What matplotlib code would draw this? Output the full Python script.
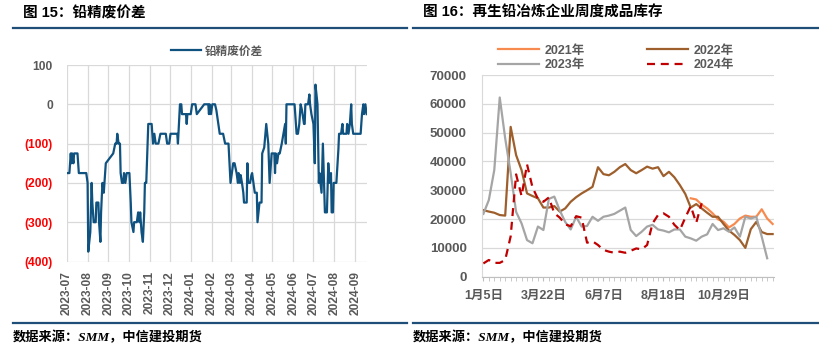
import numpy as np
import pandas as pd
import matplotlib
matplotlib.use('Agg')
import matplotlib.pyplot as plt
import matplotlib.dates as mdates
from matplotlib.lines import Line2D
from matplotlib.ticker import FuncFormatter, FixedLocator, MultipleLocator

plt.rcParams['font.family'] = ['Liberation Sans', 'Noto Sans CJK SC']

# ---- left panel data: lead concentrate vs scrap spread (days after 2023-07-01)
start_date = '2023-07-01'
spread_days = [
    0, 4, 6, 7, 8, 10, 11, 16, 17, 18,
    29, 31, 32, 35, 37, 38, 40, 43, 44, 47,
    48, 50, 51, 53, 55, 56, 58, 69, 72, 74,
    75, 77, 79, 80, 82, 84, 85, 87, 89, 93,
    95, 96, 99, 100, 104, 106, 108, 109, 111, 113,
    115, 116, 118, 121, 126, 128, 130, 132, 136, 139,
    147, 149, 152, 154, 164, 165, 168, 170, 171, 177,
    178, 179, 184, 186, 191, 193, 204, 210, 211, 212,
    214, 216, 220, 222, 227, 232, 235, 240, 243, 247,
    249, 252, 254, 255, 257, 258, 260, 262, 263, 267,
    268, 269, 272, 274, 275, 277, 279, 282, 283, 286,
    289, 290, 293, 296, 299, 301, 304, 308, 309, 310,
    312, 314, 316, 319, 321, 324, 325, 326, 338, 340,
    341, 343, 345, 347, 349, 352, 353, 354, 358, 360,
    361, 363, 366, 368, 369, 372, 374, 375, 378, 380,
    383, 386, 388, 390, 392, 393, 395, 396, 400, 403,
    404, 407, 409, 410, 415, 416, 418, 420, 422, 423,
    425, 436, 438, 440, 441, 443, 445,
]
spread_values = [
    -175, -175, -125, -150, -125, -150, -125, -125, -150, -175,
    -175, -200, -375, -325, -200, -250, -300, -300, -250, -250,
    -300, -350, -275, -200, -225, -200, -150, -125, -100, -100,
    -75, -100, -100, -175, -200, -200, -175, -200, -175, -175,
    -250, -300, -325, -300, -300, -275, -300, -275, -325, -350,
    -275, -200, -200, -50, -50, -100, -75, -100, -100, -75,
    -75, -100, -100, -75, -75, -100, 0, 0, -25, -25,
    -50, -25, -25, 0, 0, -25, 0, 0, -25, 0,
    -25, 0, 0, -15, -75, -75, -100, -100, -200, -150,
    -150, -175, -200, -175, -200, -180, -200, -225, -250, -250,
    -150, -200, -200, -180, -175, -200, -225, -225, -300, -250,
    -250, -125, -110, -50, -100, -200, -125, -125, -175, -125,
    -150, -125, -125, -100, -80, -50, -100, 0, 0, -50,
    -75, -75, -50, 0, -15, -50, -50, 0, 0, 25,
    0, -25, -50, -150, 50, 0, -200, -175, -225, -100,
    -275, -275, -150, -200, -175, -275, -275, -200, -200, -115,
    -75, -75, -50, -75, -75, -50, -75, -50, 0, -50,
    -75, -75, -25, 0, -25, 0, -25,
]
spread_label = '铅精废价差'

# ---- right panel data: weekly finished-goods inventory (tonnes), 54 weeks
week_tick_labels = ['1月5日', '3月22日', '6月7日', '8月18日', '10月29日']
week_tick_step = 11
nan = np.nan
inv_2021 = [nan] * 38 + [
    27200, 26800, 25000, 23700, 22000, 19900, 19100, 17100, 18300, 20200,
    21200, 20800, 20800, 23400, 20200, 18300,
]
inv_2022 = [
    23100, 22600, 22200, 21400, 21200, 52000, 42200, 37000, 28900, 28000,
    27200, 24000, 24000, 24500, 22600, 23700, 26000, 27600, 28900, 30000,
    31200, 38000, 35600, 35200, 36400, 38000, 39100, 37000, 35900, 37000,
    38200, 37500, 38000, 34900, 36400, 34500, 31800, 28700, 24000, 25200,
    23700, 22200, 20800, 20800, 18300, 16000, 14500, 12700, 10000, 16500,
    19000, 15500, 14800, 14800,
]
inv_2023 = [
    21800, 26600, 37000, 62200, 48000, 36000, 22500, 18500, 12700, 11600,
    17400, 16200, 27000, 27800, 23000, 19000, 16400, 20800, 17400, 17600,
    20800, 19400, 20800, 21200, 21800, 22900, 24000, 16200, 14100, 15600,
    17400, 18000, 16400, 16000, 15400, 16400, 16400, 13900, 13300, 12500,
    13900, 14700, 18300, 16200, 16800, 15600, 17100, 13900, 20800, 20200,
    20800, 13900, 6400, nan,
]
inv_2024 = [
    4600, 5800, 4800, 4800, 5800, 14000, 35500, 28000, 39000, 31000,
    27000, 26000, 27500, 22000, 20500, 18200, 17500, 21000, 20500, 11800,
    12300, 11000, 9300, 8700, 8300, 8700, 8300, 9000, 9800, 9500,
    11000, 18500, 21400, 22000, 20800, 18000, 16200, 20500, 24500, 18700,
    25500,
] + [nan] * 13
series_names = ['2021年', '2022年', '2023年', '2024年']

GRAY_TXT = '#595959'
GRID = '#D9D9D9'
NAVY = '#1F4E79'

fig = plt.figure(figsize=(8.19, 3.54), dpi=100)
W, H = 819.0, 354.0


def px(x, y):
    return x / W, 1 - y / H


# titles, rules and source notes
for x0, x1, title in [(13, 407, '图 15：铅精废价差'), (413, 819, '图 16：再生铅冶炼企业周度成品库存')]:
    fig.text(*px(x0 + 10, 13), title, fontsize=10.5, fontweight='bold',
             color='black', va='center', ha='left')
    for yy in (28.3, 322.7):
        fig.add_artist(Line2D([x0 / W, x1 / W], [1 - yy / H] * 2,
                              color=NAVY, lw=1.6))
    fig.text(*px(x0, 337), '数据来源：SMM，中信建投期货', fontsize=9.5,
             fontweight='bold', style='italic', color='black', va='center',
             ha='left', family=['Liberation Serif', 'Noto Sans CJK SC'])

# ---------------- left chart
ax = fig.add_axes([66.7 / W, 1 - 261.5 / H, 300 / W, 196.5 / H])
dates = pd.Timestamp(start_date) + pd.to_timedelta(spread_days, unit='D')
ax.plot(dates, spread_values, color='#0F5280', lw=1.6, label=spread_label)
t0 = pd.Timestamp(start_date)
ax.set_xlim(t0, t0 + pd.Timedelta(days=445))
ax.set_ylim(-400, 100)
ax.yaxis.set_major_locator(MultipleLocator(100))
ax.xaxis.set_major_locator(mdates.MonthLocator())
ax.xaxis.set_major_formatter(mdates.DateFormatter('%Y-%m'))
ax.yaxis.set_major_formatter(FuncFormatter(
    lambda v, p: '({:.0f})'.format(-v) if v < 0 else '{:.0f}'.format(v)))
ax.grid(True, color=GRID, lw=0.9)
ax.set_axisbelow(True)
for s in ax.spines.values():
    s.set_visible(False)
ax.tick_params(axis='both', length=0)
ax.tick_params(axis='y', pad=10, labelsize=8.7)
ax.tick_params(axis='x', pad=7, labelsize=8.6, labelrotation=90,
               labelcolor=GRAY_TXT)
fig.canvas.draw()
for lab in ax.get_yticklabels():
    lab.set_fontweight('bold')
    lab.set_color('#FF0000' if lab.get_text().startswith('(') else GRAY_TXT)
for lab in ax.get_xticklabels():
    lab.set_fontweight('bold')
leg = ax.legend(loc='center', bbox_to_anchor=(0.5, 1 + 13.5 / 196.5),
                frameon=False, fontsize=8.4, handlelength=2.6,
                handletextpad=0.3)
for t in leg.get_texts():
    t.set_color(GRAY_TXT)
    t.set_fontweight('bold')

# ---------------- right chart
ax2 = fig.add_axes([482 / W, 1 - 276.7 / H, 292 / W, 201.7 / H])
weeks = np.arange(len(inv_2022))
colors = ['#F78A4F', '#9E5F2C', '#A5A5A5', '#C00000']
handles = []
for name, vals, c in zip(series_names, [inv_2021, inv_2022, inv_2023, inv_2024], colors):
    ls = (0, (3.6, 2.6)) if name == '2024年' else '-'
    h, = ax2.plot(weeks, vals, color=c, lw=1.6, linestyle=ls, label=name)
    handles.append(h)
ax2.set_ylim(0, 70000)
ax2.set_xlim(-0.25, len(weeks) - 0.75)
ax2.yaxis.set_major_locator(MultipleLocator(10000))
ax2.xaxis.set_major_locator(FixedLocator(weeks[::week_tick_step][:len(week_tick_labels)]))
ax2.set_xticklabels(week_tick_labels)
ax2.xaxis.set_minor_locator(FixedLocator(weeks))
ax2.grid(True, axis='y', color=GRID, lw=0.9)
ax2.set_axisbelow(True)
for k in ('top', 'right'):
    ax2.spines[k].set_visible(False)
ax2.spines['left'].set_color(GRID)
ax2.spines['bottom'].set_color('#BFBFBF')
ax2.tick_params(axis='y', length=0, pad=11, labelsize=9.5, labelcolor=GRAY_TXT)
ax2.tick_params(axis='x', which='both', length=3.2, color='#BFBFBF',
                pad=6, labelsize=9, labelcolor=GRAY_TXT)
for lab in ax2.get_yticklabels() + ax2.get_xticklabels():
    lab.set_fontweight('bold')
order = [0, 2, 1, 3]
leg2 = fig.legend([handles[i] for i in order], [series_names[i] for i in order],
                  loc='center', bbox_to_anchor=(616 / W, 1 - 58 / H), ncol=2,
                  frameon=False, fontsize=9, handlelength=3.3,
                  handletextpad=0.5, columnspacing=4.9, labelspacing=0.2)
for t in leg2.get_texts():
    t.set_color(GRAY_TXT)
    t.set_fontweight('bold')

fig.savefig('out.png', dpi=100)
